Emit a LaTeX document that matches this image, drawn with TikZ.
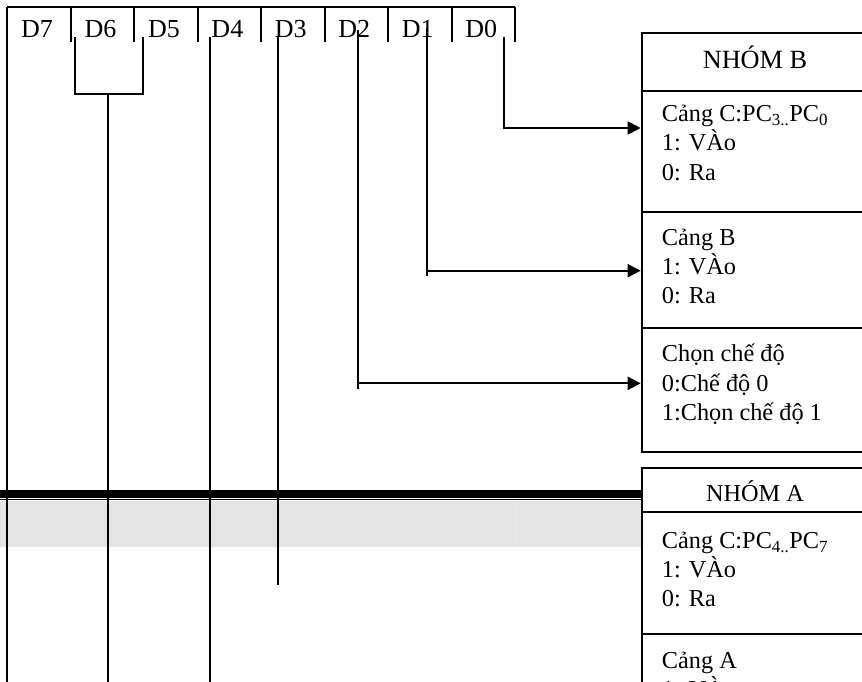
\documentclass[tikz,border=0pt]{standalone}
\usepackage{fontspec}
\setmainfont{Liberation Serif}
\usetikzlibrary{arrows.meta}
\definecolor{bandgray}{RGB}{228,228,228}
\definecolor{bandseam}{RGB}{236,236,236}
\newcommand\cellstrut{\rule{0pt}{24pt}}
\begin{document}
\begin{tikzpicture}[x=1pt,y=-1pt,
  reg/.style={line width=2pt},
  wire/.style={line width=1.9pt},
  frame/.style={line width=2pt},
  arr/.style={wire,-{Triangle[length=13pt,width=13pt]}},
  bit/.style={anchor=base,inner sep=0pt,font=\fontsize{26}{30}\selectfont},
  grouptitle/.style={anchor=base,inner sep=0pt},
  cell/.style={anchor=north west,inner sep=0pt,align=left,
    font=\fontsize{24.3}{29.2}\selectfont}]
\useasboundingbox (0,0) rectangle (862,681);
\begin{scope}
\clip (0,0) rectangle (862,681);

% shaded band under the bus
\fill[bandgray] (0,501) rectangle (641.7,546.7);
\draw[bandseam,line width=0.8pt] (516,501.5) -- (516,546.2);

% control word register
\draw[reg] (7.3,6.7) -- (515,6.7);
\foreach \i in {1,...,8}
  \draw[reg] ({7.3+63.46*\i},6.7) -- ({7.3+63.46*\i},42.3);
\foreach \i/\lab in {0/D7,1/D6,2/D5,3/D4,4/D3,5/D2,6/D1,7/D0}
  \node[bit] (bit\lab) at ({7.3+63.46*\i+29.7},37.3) {\lab};

% group B frame
\draw[frame] (641.7,32.7) rectangle (880,451.7);
\draw[frame] (641.7,90.7) -- (880,90.7);
\draw[frame] (641.7,211.7) -- (880,211.7);
\draw[frame] (641.7,328.3) -- (880,328.3);
\node[grouptitle,font=\fontsize{26.3}{30}\selectfont] (grpB) at (755,68.3) {NHÓM B};
\node[cell] (portCL) at (661.7,97.5) {\cellstrut Cảng C:PC\textsubscript{3..}PC\textsubscript{0}\\1: VÀo\\0: Ra};
\node[cell] (portB) at (661.7,221) {\cellstrut Cảng B\\1: VÀo\\0: Ra};
\node[cell] (modeB) at (661.7,337.7) {\cellstrut Chọn chế độ\\0:Chế độ 0\\1:Chọn chế độ 1};

% group A frame
\draw[frame] (641.7,468.3) rectangle (880,760);
\draw[frame] (641.7,512.3) -- (880,512.3);
\draw[frame] (641.7,634.3) -- (880,634.3);
\node[grouptitle,font=\fontsize{24.3}{29}\selectfont] (grpA) at (755,501.7) {NHÓM A};
\node[cell] (portCU) at (661.7,524.3) {\cellstrut Cảng C:PC\textsubscript{4..}PC\textsubscript{7}\\1: VÀo\\0: Ra};
\node[cell] (portA) at (661.7,644.3) {\cellstrut Cảng A\\1: VÀo};

% wire end points
\coordinate (w7) at (7.3,6.7);
\coordinate (w6) at (75,37.3);
\coordinate (w5) at (142.7,37.3);
\coordinate (w65) at (107.7,94.3);
\coordinate (w4) at (210,37);
\coordinate (w3) at (278.3,37);
\coordinate (w2) at (358.3,30);
\coordinate (w1) at (426.7,28);
\coordinate (w0) at (504,37);
\coordinate (inCL) at (640.7,128);
\coordinate (inB) at (640.7,270.7);
\coordinate (inMode) at (640.7,383.3);

% bit wires
\draw[wire] (w7) -- (7.3,690);
\draw[wire] (w6) -- (w6 |- w65);
\draw[wire] (w5) -- (w5 |- w65);
\draw[wire] ([xshift=-0.9pt]w6 |- w65) -- ([xshift=0.9pt]w5 |- w65);
\draw[wire] (w65) -- (107.7,690);
\draw[wire] (w4) -- (210,690);
\draw[wire] (w3) -- (278.3,585);
\draw[wire] (w2) -- (358.3,389);
\draw[arr] (w2 |- inMode) -- (inMode);
\draw[wire] (w1) -- (426.7,276);
\draw[arr] (w1 |- inB) -- (inB);
\draw[arr] (w0) |- (inCL);

% bus
\draw[line width=7.7pt] (0,493.9) -- (641.7,493.9);
\draw[line width=1.4pt] (0,499.4) -- (641.7,499.4);
\end{scope}
\end{tikzpicture}
\end{document}
